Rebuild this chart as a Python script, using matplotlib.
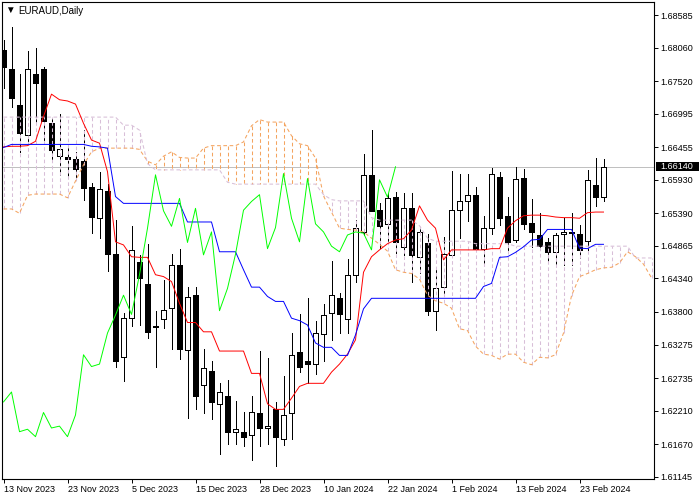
import matplotlib
matplotlib.use("Agg")
import matplotlib.pyplot as plt
import numpy as np
from matplotlib.patches import Rectangle
from matplotlib.transforms import blended_transform_factory

plt.rcParams['font.family'] = ['Liberation Sans', 'DejaVu Sans']

# daily candles, EURAUD, 13 Nov 2023 .. 28 Feb 2024
opens = [1.6802, 1.6771, 1.6713, 1.6665, 1.6763, 1.6771, 1.6684, 1.6631, 1.6629, 1.6627,
         1.6623, 1.6581, 1.6531, 1.6575, 1.6474, 1.6308, 1.6370, 1.6461, 1.6425, 1.6357,
         1.6368, 1.6386, 1.6456, 1.6318, 1.6407, 1.6262, 1.6285, 1.6231, 1.6244, 1.6187,
         1.6186, 1.6181, 1.6217, 1.6193, 1.6223, 1.6175, 1.6217, 1.6316, 1.6301, 1.6296,
         1.6344, 1.6378, 1.6402, 1.6368, 1.6440, 1.6509, 1.6601, 1.6544, 1.6521, 1.6565,
         1.6485, 1.6547, 1.6469, 1.6491, 1.6382, 1.6421, 1.6472, 1.6544, 1.6558, 1.6569,
         1.6482, 1.6516, 1.6598, 1.6534, 1.6496, 1.6596, 1.6524, 1.6504, 1.6493, 1.6477,
         1.6506, 1.6509, 1.6506, 1.6495, 1.6585, 1.6565]
highs = [1.6818, 1.6840, 1.6763, 1.6800, 1.6805, 1.6774, 1.6693, 1.6699, 1.6649, 1.6638,
         1.6673, 1.6588, 1.6605, 1.6587, 1.6528, 1.6379, 1.6518, 1.6471, 1.6490, 1.6381,
         1.6431, 1.6473, 1.6481, 1.6421, 1.6421, 1.6321, 1.6301, 1.6265, 1.6270, 1.6236,
         1.6218, 1.6244, 1.6317, 1.6305, 1.6235, 1.6277, 1.6346, 1.6377, 1.6402, 1.6366,
         1.6393, 1.6462, 1.6410, 1.6465, 1.6528, 1.6634, 1.6674, 1.6555, 1.6571, 1.6574,
         1.6571, 1.6571, 1.6517, 1.6506, 1.6453, 1.6500, 1.6607, 1.6603, 1.6603, 1.6582,
         1.6535, 1.6612, 1.6606, 1.6566, 1.6614, 1.6610, 1.6562, 1.6540, 1.6499, 1.6507,
         1.6531, 1.6540, 1.6520, 1.6609, 1.6628, 1.6627]
lows = [1.6741, 1.6711, 1.6638, 1.6652, 1.6686, 1.6655, 1.6625, 1.6601, 1.6596, 1.6593,
        1.6560, 1.6508, 1.6499, 1.6446, 1.6291, 1.6269, 1.6358, 1.6359, 1.6338, 1.6291,
        1.6354, 1.6321, 1.6304, 1.6209, 1.6223, 1.6217, 1.6207, 1.6151, 1.6168, 1.6168,
        1.6164, 1.6141, 1.6164, 1.6168, 1.6131, 1.6166, 1.6175, 1.6283, 1.6265, 1.6280,
        1.6301, 1.6335, 1.6346, 1.6346, 1.6429, 1.6504, 1.6542, 1.6483, 1.6491, 1.6475,
        1.6472, 1.6429, 1.6442, 1.6375, 1.6351, 1.6407, 1.6469, 1.6499, 1.6526, 1.6478,
        1.6458, 1.6506, 1.6520, 1.6480, 1.6492, 1.6514, 1.6485, 1.6480, 1.6461, 1.6453,
        1.6456, 1.6456, 1.6467, 1.6480, 1.6551, 1.6558]
closes = [1.6775, 1.6724, 1.6668, 1.6771, 1.6749, 1.6687, 1.6641, 1.6642, 1.6626, 1.6610,
          1.6580, 1.6533, 1.6578, 1.6474, 1.6301, 1.6370, 1.6480, 1.6434, 1.6348, 1.6355,
          1.6383, 1.6456, 1.6321, 1.6404, 1.6245, 1.6289, 1.6235, 1.6251, 1.6187, 1.6191,
          1.6179, 1.6218, 1.6193, 1.6196, 1.6179, 1.6214, 1.6311, 1.6292, 1.6296, 1.6346,
          1.6375, 1.6407, 1.6376, 1.6440, 1.6515, 1.6601, 1.6543, 1.6518, 1.6563, 1.6492,
          1.6547, 1.6472, 1.6509, 1.6382, 1.6418, 1.6473, 1.6544, 1.6558, 1.6569, 1.6482,
          1.6516, 1.6603, 1.6531, 1.6493, 1.6595, 1.6522, 1.6509, 1.6486, 1.6477, 1.6504,
          1.6509, 1.6507, 1.6480, 1.6593, 1.6565, 1.6614]

# Ichimoku lines as shown
tenkan = [1.6646, 1.6647, 1.6647, 1.6648, 1.6655, 1.6695, 1.6731, 1.6722, 1.6720, 1.6715,
          1.6684, 1.6657, 1.6652, 1.6606, 1.6493, 1.6488, 1.6469, 1.6468, 1.6468, 1.6440,
          1.6437, 1.6429, 1.6394, 1.6363, 1.6363, 1.6348, 1.6348, 1.6317, 1.6317, 1.6317,
          1.6317, 1.6281, 1.6281, 1.6232, 1.6223, 1.6223, 1.6241, 1.6260, 1.6265, 1.6265,
          1.6265, 1.6283, 1.6296, 1.6312, 1.6335, 1.6444, 1.6469, 1.6480, 1.6490, 1.6496,
          1.6498, 1.6512, 1.6551, 1.6528, 1.6515, 1.6464, 1.6480, 1.6480, 1.6480, 1.6480,
          1.6480, 1.6482, 1.6482, 1.6515, 1.6527, 1.6535, 1.6536, 1.6536, 1.6535, 1.6533,
          1.6532, 1.6532, 1.6531, 1.6540, 1.6541, 1.6541]
kijun = [1.6645, 1.6650, 1.6650, 1.6650, 1.6650, 1.6650, 1.6650, 1.6650, 1.6650, 1.6650,
         1.6650, 1.6647, 1.6646, 1.6644, 1.6566, 1.6555, 1.6555, 1.6555, 1.6555, 1.6555,
         1.6555, 1.6555, 1.6555, 1.6525, 1.6525, 1.6525, 1.6525, 1.6477, 1.6477, 1.6477,
         1.6448, 1.6420, 1.6420, 1.6405, 1.6397, 1.6397, 1.6370, 1.6366, 1.6359, 1.6330,
         1.6323, 1.6323, 1.6310, 1.6310, 1.6343, 1.6385, 1.6402, 1.6402, 1.6402, 1.6402,
         1.6402, 1.6402, 1.6402, 1.6402, 1.6402, 1.6402, 1.6402, 1.6402, 1.6402, 1.6402,
         1.6421, 1.6426, 1.6468, 1.6469, 1.6476, 1.6485, 1.6496, 1.6497, 1.6513, 1.6513,
         1.6513, 1.6513, 1.6483, 1.6482, 1.6489, 1.6489]
span_a = [1.6546, 1.6546, 1.6539, 1.6568, 1.6570, 1.6570, 1.6570, 1.6570, 1.6564, 1.6591,
          1.6617, 1.6638, 1.6644, 1.6644, 1.6644, 1.6644, 1.6644, 1.6642, 1.6623, 1.6617,
          1.6631, 1.6638, 1.6629, 1.6628, 1.6628, 1.6644, 1.6648, 1.6648, 1.6648, 1.6648,
          1.6654, 1.6680, 1.6690, 1.6686, 1.6686, 1.6686, 1.6664, 1.6651, 1.6648, 1.6628,
          1.6567, 1.6541, 1.6515, 1.6513, 1.6512, 1.6509, 1.6499, 1.6489, 1.6478, 1.6448,
          1.6444, 1.6442, 1.6433, 1.6407, 1.6398, 1.6394, 1.6386, 1.6353, 1.6350, 1.6325,
          1.6312, 1.6310, 1.6304, 1.6312, 1.6312, 1.6299, 1.6295, 1.6307, 1.6306, 1.6311,
          1.6346, 1.6406, 1.6437, 1.6442, 1.6448, 1.6451, 1.6452, 1.6459, 1.6477, 1.6469,
          1.6457, 1.6435]
span_b = [1.6694, 1.6694, 1.6694, 1.6694, 1.6694, 1.6694, 1.6694, 1.6694, 1.6694, 1.6694,
          1.6694, 1.6694, 1.6694, 1.6694, 1.6694, 1.6681, 1.6681, 1.6673, 1.6619, 1.6609,
          1.6609, 1.6609, 1.6609, 1.6609, 1.6609, 1.6609, 1.6609, 1.6609, 1.6589, 1.6586,
          1.6586, 1.6586, 1.6586, 1.6586, 1.6586, 1.6586, 1.6586, 1.6586, 1.6586, 1.6586,
          1.6569, 1.6561, 1.6559, 1.6559, 1.6559, 1.6559, 1.6532, 1.6528, 1.6528, 1.6528,
          1.6528, 1.6528, 1.6519, 1.6499, 1.6494, 1.6494, 1.6494, 1.6494, 1.6494, 1.6490,
          1.6490, 1.6490, 1.6490, 1.6490, 1.6486, 1.6486, 1.6486, 1.6486, 1.6486, 1.6486,
          1.6486, 1.6486, 1.6486, 1.6486, 1.6486, 1.6486, 1.6486, 1.6486, 1.6486, 1.6467,
          1.6467, 1.6467]

date_ticks = [0, 8, 16, 24, 32, 40, 48, 56, 64, 72]
date_labels = ["13 Nov 2023", "23 Nov 2023", "5 Dec 2023", "15 Dec 2023", "28 Dec 2023",
               "10 Jan 2024", "22 Jan 2024", "1 Feb 2024", "13 Feb 2024", "23 Feb 2024"]
price_ticks = [1.68585, 1.68060, 1.67520, 1.66995, 1.66455, 1.65930, 1.65390, 1.64865,
               1.64340, 1.63800, 1.63275, 1.62735, 1.62210, 1.61670, 1.61145]
last_price = 1.66140
chikou_shift = 26

o = np.array(opens); h = np.array(highs); l = np.array(lows); c = np.array(closes)
x = np.arange(len(c))
xc = np.arange(len(span_a))
sa = np.array(span_a); sb = np.array(span_b)

fig = plt.figure(figsize=(7, 5), dpi=100)
ax = fig.add_axes([2 / 700, 21 / 500, 652 / 700, 477 / 500])

crisp = dict(antialiased=False, lw=0.5)
dash = (0, (3.5, 2.5))

ax.axhline(last_price, color='#C0C0C0', zorder=1, **crisp)

# candles
up = c >= o
ax.vlines(x, l, h, color='black', zorder=2, **crisp)
ax.bar(x, np.abs(c - o), bottom=np.minimum(o, c), width=0.62,
       color=np.where(up, 'white', 'black'), edgecolor='black', linewidth=0.5,
       zorder=3, antialiased=False)

# cloud
hatch_cols = ['#F4A460' if a > b else '#D8BFD8' for a, b in zip(sa, sb)]
ax.vlines(xc, sa, sb, colors=hatch_cols, linestyles=[dash], lw=0.75, zorder=4)
ax.plot(xc, sa, color='#F4A460', ls=dash, lw=0.75, zorder=4)
ax.plot(xc, sb, color='#D8BFD8', ls=dash, lw=0.75, zorder=4)

# indicator lines
ax.plot(x, tenkan, color='red', lw=0.7, zorder=5)
ax.plot(x, kijun, color='blue', lw=0.7, zorder=5)
ax.plot(x[chikou_shift:] - chikou_shift, c[chikou_shift:], color='#00FF00', lw=0.7,
        zorder=5)

# 8 px per bar, bar centres on pixel centres
ax.set_xlim(-0.1875, 81.3125)
ax.set_ylim(1.61108, 1.68795)

ax.yaxis.tick_right()
ax.set_yticks(price_ticks)
ax.set_yticklabels([f"{p:.5f}" for p in price_ticks])
ax.set_xticks(date_ticks)
ax.set_xticklabels(date_labels, ha='left')
ax.tick_params(axis='both', direction='out', length=3, width=0.7, labelsize=6.5,
               colors='black', pad=1.2)
for s in ax.spines.values():
    s.set_linewidth(0.8)
    s.set_color('black')

# current price marker on the axis
trans = blended_transform_factory(ax.transAxes, ax.transData)
ax.add_patch(Rectangle((1.0025, last_price - 0.00075), 0.066, 0.0015, transform=trans,
                       facecolor='black', edgecolor='none', clip_on=False, zorder=10))
ax.text(1.0095, last_price, f"{last_price:.5f}", transform=trans, ha='left', va='center',
        color='white', fontsize=6.5, clip_on=False, zorder=11)

fig.text(10 / 700, 1 - 10 / 500, "\u25bc", fontsize=7, ha='center', va='center')
fig.text(18 / 700, 1 - 10.5 / 500, "EURAUD,Daily", fontsize=7, ha='left', va='center')

fig.savefig("out.png", dpi=100)
